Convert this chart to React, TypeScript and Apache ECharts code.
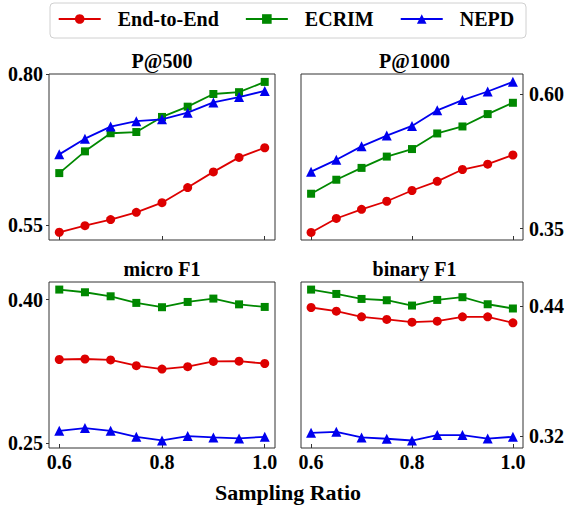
import React, { useEffect, useRef } from "react";
import * as echarts from "echarts";

const xValues = [0.6, 0.65, 0.7, 0.75, 0.8, 0.85, 0.9, 0.95, 1.0];
const seriesNames = ["End-to-End", "ECRIM", "NEPD"];
const panelTitles = ["P@500", "P@1000", "micro F1", "binary F1"];
const xLabel = "Sampling Ratio";
const xTickValues = [0.6, 0.8, 1.0];

const p500E2E = [0.538, 0.549, 0.559, 0.571, 0.587, 0.612, 0.638, 0.662, 0.678];
const p500ECRIM = [0.636, 0.672, 0.702, 0.704, 0.729, 0.746, 0.767, 0.770, 0.787];
const p500NEPD = [0.667, 0.693, 0.713, 0.722, 0.725, 0.736, 0.753, 0.762, 0.772];

const p1000E2E = [0.343, 0.369, 0.386, 0.401, 0.421, 0.438, 0.460, 0.470, 0.487];
const p1000ECRIM = [0.415, 0.441, 0.463, 0.484, 0.498, 0.527, 0.540, 0.563, 0.584];
const p1000NEPD = [0.456, 0.478, 0.503, 0.523, 0.541, 0.570, 0.589, 0.605, 0.623];

const microE2E = [0.3375, 0.338, 0.337, 0.331, 0.3275, 0.330, 0.3355, 0.3357, 0.3333];
const microECRIM = [0.4104, 0.4076, 0.4034, 0.3965, 0.392, 0.3975, 0.401, 0.395, 0.3923];
const microNEPD = [0.2631, 0.266, 0.2631, 0.2569, 0.2531, 0.2576, 0.2562, 0.2552, 0.2569];

const binaryE2E = [0.4388, 0.4354, 0.4302, 0.4278, 0.4253, 0.4262, 0.4302, 0.4302, 0.4247];
const binaryECRIM = [0.4553, 0.4513, 0.4467, 0.4455, 0.4406, 0.4458, 0.4483, 0.4418, 0.4379];
const binaryNEPD = [0.3234, 0.3243, 0.3191, 0.3179, 0.3163, 0.3213, 0.3213, 0.3181, 0.3197];

const yTicks = [
  [0.55, 0.8],
  [0.35, 0.6],
  [0.25, 0.4],
  [0.32, 0.44],
];
const yRanges = [
  [0.5252, 0.8001],
  [0.329, 0.6375],
  [0.2452, 0.4183],
  [0.3094, 0.4623],
];

const panelData = [
  [p500E2E, p500ECRIM, p500NEPD],
  [p1000E2E, p1000ECRIM, p1000NEPD],
  [microE2E, microECRIM, microNEPD],
  [binaryE2E, binaryECRIM, binaryNEPD],
];

const colors = ["#dd0000", "#008800", "#0000ee"];
const symbols = ["circle", "rect", "triangle"];
const symbolSizes = [9, 8, 10];

const FONT = '"Liberation Serif", "Times New Roman", serif';

export default function App() {
  const ref = useRef<HTMLDivElement>(null);
  useEffect(() => {
    if (!ref.current) return;
    const chart = echarts.init(ref.current, undefined, { renderer: "svg" });
    const grids = [
      { left: 49, top: 74, width: 226, height: 166 },
      { left: 301, top: 74, width: 227, height: 166 },
      { left: 49, top: 282, width: 226, height: 166 },
      { left: 301, top: 282, width: 227, height: 166 },
    ].map((g) => ({ ...g, show: true, borderColor: "#333", borderWidth: 1, backgroundColor: "transparent" }));

    const xAxes = grids.map((_, i) => ({
      type: "value",
      gridIndex: i,
      min: 0.58,
      max: 1.02,
      axisLine: { show: false },
      splitLine: { show: false },
      axisTick: { show: true, inside: true, length: 4, lineStyle: { color: "#333" }, customValues: xTickValues },
      axisLabel: {
        show: i >= 2,
        customValues: xTickValues,
        formatter: (v: number) => v.toFixed(1),
        fontFamily: FONT,
        fontWeight: "bold",
        fontSize: 20,
        color: "#000",
        margin: 4,
      },
    }));

    const yAxes = grids.map((_, i) => {
      const right = i % 2 === 1;
      return {
        type: "value",
        gridIndex: i,
        position: right ? "right" : "left",
        min: yRanges[i][0],
        max: yRanges[i][1],
        axisLine: { show: false },
        splitLine: { show: false },
        axisTick: { show: true, inside: right, length: 3, lineStyle: { color: "#333" }, customValues: yTicks[i] },
        axisLabel: {
          customValues: yTicks[i],
          formatter: (v: number) => v.toFixed(2),
          fontFamily: FONT,
          fontWeight: "bold",
          fontSize: 20,
          color: "#000",
          margin: 6,
        },
      };
    });

    const series: any[] = [];
    panelData.forEach((panel, pi) => {
      panel.forEach((vals, si) => {
        series.push({
          type: "line",
          name: seriesNames[si],
          xAxisIndex: pi,
          yAxisIndex: pi,
          data: xValues.map((x, k) => [x, vals[k]]),
          symbol: symbols[si],
          symbolSize: symbolSizes[si],
          showAllSymbol: true,
          lineStyle: { color: colors[si], width: 1.8 },
          itemStyle: { color: colors[si] },
          clip: false,
          z: 2 + si,
        });
      });
    });

    const titlePos = [
      [162, 61],
      [414.5, 61],
      [162, 269],
      [414.5, 269],
    ];

    const graphics: any[] = [
      {
        type: "rect",
        shape: { x: 50, y: 3, width: 476, height: 35, r: 4 },
        style: { fill: "#fff", stroke: "#d0d0d0", lineWidth: 1 },
        z: -1,
        silent: true,
      },
      ...panelTitles.map((t, i) => ({
        type: "text",
        x: titlePos[i][0],
        y: titlePos[i][1],
        style: {
          text: t,
          fontFamily: FONT,
          fontWeight: "bold",
          fontSize: 20,
          fill: "#000",
          align: "center",
          verticalAlign: "middle",
        },
      })),
      {
        type: "text",
        x: 288,
        y: 492,
        style: {
          text: xLabel,
          fontFamily: FONT,
          fontWeight: "bold",
          fontSize: 22,
          fill: "#000",
          align: "center",
          verticalAlign: "middle",
        },
      },
    ];

    chart.setOption({
      animation: false,
      backgroundColor: "#fff",
      grid: grids,
      xAxis: xAxes,
      yAxis: yAxes,
      series,
      graphic: graphics,
      legend: {
        data: seriesNames,
        left: 57.7,
        top: 9,
        padding: 0,
        itemWidth: 42,
        itemHeight: 12,
        itemGap: 26,
        z: 10,
        textStyle: {
          fontFamily: FONT,
          fontWeight: "bold",
          fontSize: 20,
          color: "#000",
          padding: [0, 0, 0, 12],
        },
      },
    });
    return () => chart.dispose();
  }, []);
  return (
    <div
      ref={ref}
      style={{ position: "absolute", left: 0, top: 0, width: 567, height: 506, background: "#fff" }}
    />
  );
}
